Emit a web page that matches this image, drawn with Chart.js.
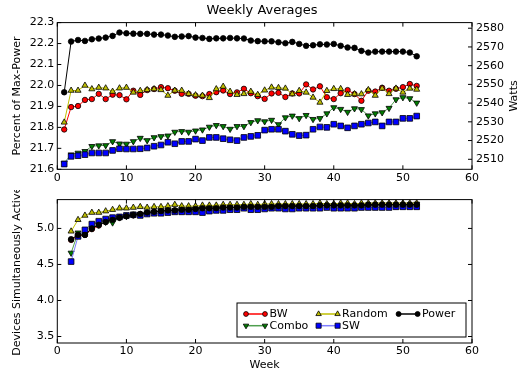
<!DOCTYPE html>
<html>
<head>
<meta charset="utf-8">
<script src="https://cdn.jsdelivr.net/npm/chart.js@4.4.0/dist/chart.umd.min.js"></script>
<style>
html, body { margin: 0; padding: 0; background: #fff; }
#wrap { position: relative; width: 524px; height: 375px; }
canvas { position: absolute; left: 0; }
#topChart { top: 0; }
#bottomChart { top: 190px; }
</style>
</head>
<body>
<div id="wrap">
  <canvas id="topChart" width="524" height="190"></canvas>
  <canvas id="bottomChart" width="524" height="185"></canvas>
</div>
<script>
// weeks of the study
const weeks = [1, 2, 3, 4, 5, 6, 7, 8, 9, 10, 11, 12, 13, 14, 15, 16, 17, 18, 19, 20,
  21, 22, 23, 24, 25, 26, 27, 28, 29, 30, 31, 32, 33, 34, 35, 36, 37, 38, 39, 40,
  41, 42, 43, 44, 45, 46, 47, 48, 49, 50, 51, 52];

// top panel: percent of max-power (weeks 1-52)
const bwPct = [21.790, 21.897, 21.902, 21.931, 21.935, 21.960, 21.935, 21.956, 21.954, 21.934,
  21.975, 21.955, 21.978, 21.983, 21.992, 21.987, 21.975, 21.960, 21.960, 21.951,
  21.949, 21.959, 21.968, 21.976, 21.959, 21.967, 21.984, 21.963, 21.949, 21.936,
  21.962, 21.965, 21.945, 21.962, 21.962, 22.005, 21.981, 21.996, 21.944, 21.935,
  21.963, 21.978, 21.959, 21.927, 21.975, 21.971, 21.989, 21.975, 21.984, 21.992, 22.007, 21.998];
const comboPct = [21.630, 21.670, 21.678, 21.686, 21.710, 21.713, 21.714, 21.733, 21.722, 21.721,
  21.733, 21.749, 21.738, 21.752, 21.757, 21.760, 21.778, 21.781, 21.778, 21.784,
  21.789, 21.802, 21.810, 21.805, 21.792, 21.805, 21.805, 21.824, 21.833, 21.828,
  21.835, 21.814, 21.847, 21.855, 21.843, 21.858, 21.839, 21.843, 21.866, 21.895,
  21.887, 21.873, 21.890, 21.886, 21.856, 21.866, 21.871, 21.892, 21.933, 21.943, 21.938, 21.917];
const randomPct = [21.824, 21.976, 21.976, 22.000, 21.983, 21.990, 21.987, 21.971, 21.987, 21.990,
  21.967, 21.975, 21.979, 21.983, 21.979, 21.952, 21.976, 21.976, 21.960, 21.954,
  21.952, 21.941, 21.983, 21.995, 21.971, 21.956, 21.960, 21.971, 21.956, 21.977,
  21.991, 21.989, 21.986, 21.959, 21.975, 21.967, 21.943, 21.919, 21.975, 21.984,
  21.984, 21.956, 21.959, 21.959, 21.979, 21.952, 21.986, 21.960, 21.986, 21.967, 21.986, 21.981];
const swPct = [21.625, 21.662, 21.665, 21.670, 21.678, 21.678, 21.678, 21.690, 21.698, 21.697,
  21.697, 21.698, 21.702, 21.710, 21.716, 21.729, 21.722, 21.733, 21.733, 21.744,
  21.737, 21.752, 21.752, 21.746, 21.741, 21.737, 21.752, 21.757, 21.762, 21.787,
  21.791, 21.791, 21.782, 21.767, 21.761, 21.763, 21.791, 21.802, 21.800, 21.815,
  21.807, 21.798, 21.807, 21.815, 21.821, 21.826, 21.807, 21.826, 21.826, 21.843, 21.843, 21.854];
// power on the Watts axis
const powerWatts = [2545.8, 2572.9, 2573.7, 2573.2, 2574.1, 2574.5, 2575.0, 2575.9, 2577.7, 2577.3,
  2577.1, 2577.0, 2577.0, 2576.6, 2576.6, 2576.1, 2575.4, 2575.6, 2575.8, 2575.0,
  2574.8, 2574.3, 2574.6, 2574.6, 2574.8, 2574.6, 2574.5, 2573.4, 2573.1, 2573.0,
  2573.0, 2572.5, 2572.0, 2572.7, 2571.6, 2570.6, 2570.9, 2571.4, 2571.3, 2571.6,
  2570.6, 2569.7, 2569.5, 2567.9, 2567.0, 2567.5, 2567.5, 2567.5, 2567.5, 2567.5, 2567.0, 2565.0];

// bottom panel: devices simultaneously active (weeks 2-52)
const devWeeks = weeks.slice(1);
const bwDev = [4.84, 4.90, 4.91, 4.99, 5.04, 5.09, 5.12, 5.15, 5.17, 5.18,
  5.20, 5.21, 5.23, 5.24, 5.25, 5.25, 5.26, 5.26, 5.27, 5.28,
  5.28, 5.28, 5.29, 5.29, 5.29, 5.29, 5.30, 5.30, 5.30, 5.30,
  5.31, 5.31, 5.31, 5.31, 5.31, 5.31, 5.31, 5.32, 5.32, 5.32,
  5.32, 5.32, 5.32, 5.32, 5.33, 5.33, 5.33, 5.33, 5.33, 5.33, 5.33];
const comboDev = [4.66, 4.94, 4.92, 5.00, 5.05, 5.09, 5.08, 5.15, 5.17, 5.19,
  5.20, 5.22, 5.23, 5.24, 5.25, 5.25, 5.26, 5.26, 5.27, 5.27,
  5.28, 5.28, 5.29, 5.29, 5.29, 5.30, 5.30, 5.30, 5.30, 5.30,
  5.31, 5.31, 5.31, 5.31, 5.31, 5.31, 5.32, 5.32, 5.32, 5.32,
  5.32, 5.32, 5.32, 5.33, 5.33, 5.33, 5.33, 5.33, 5.33, 5.33, 5.34];
const randomDev = [4.96, 5.12, 5.18, 5.22, 5.22, 5.24, 5.26, 5.28, 5.28, 5.29,
  5.30, 5.29, 5.30, 5.30, 5.31, 5.33, 5.31, 5.31, 5.31, 5.32,
  5.32, 5.32, 5.33, 5.33, 5.33, 5.33, 5.34, 5.33, 5.34, 5.34,
  5.34, 5.34, 5.34, 5.34, 5.34, 5.34, 5.35, 5.34, 5.34, 5.35,
  5.35, 5.34, 5.35, 5.35, 5.35, 5.35, 5.35, 5.35, 5.35, 5.35, 5.35];
const swDev = [4.54, 4.89, 4.98, 5.06, 5.10, 5.13, 5.15, 5.16, 5.18, 5.19,
  5.18, 5.20, 5.21, 5.21, 5.22, 5.23, 5.23, 5.23, 5.23, 5.22,
  5.24, 5.25, 5.25, 5.26, 5.26, 5.28, 5.26, 5.26, 5.27, 5.28,
  5.28, 5.27, 5.27, 5.28, 5.28, 5.28, 5.28, 5.29, 5.28, 5.28,
  5.28, 5.28, 5.29, 5.29, 5.29, 5.29, 5.29, 5.30, 5.30, 5.30, 5.30];
const powerDev = [4.85, 4.91, 4.91, 5.00, 5.05, 5.09, 5.12, 5.15, 5.17, 5.19,
  5.20, 5.22, 5.23, 5.24, 5.25, 5.25, 5.26, 5.26, 5.27, 5.28,
  5.28, 5.28, 5.29, 5.29, 5.29, 5.30, 5.30, 5.30, 5.30, 5.30,
  5.31, 5.31, 5.31, 5.31, 5.31, 5.31, 5.32, 5.32, 5.32, 5.32,
  5.32, 5.32, 5.32, 5.33, 5.33, 5.33, 5.33, 5.33, 5.33, 5.33, 5.33];

// tick labels
const weekTicks = [0, 10, 20, 30, 40, 50, 60];
const pctTicks = [21.6, 21.7, 21.8, 21.9, 22.0, 22.1, 22.2, 22.3];
const wattTicks = [2510, 2520, 2530, 2540, 2550, 2560, 2570, 2580];
const devTicks = [3.5, 4.0, 4.5, 5.0];

Chart.defaults.font.family = "'DejaVu Sans', sans-serif";
Chart.defaults.font.size = 11;
Chart.defaults.color = '#000';

// look of each series (drawing order: Power on top)
const looks = {
  BW:     { line: '#ff0000', fill: '#ff0000', shape: 'circle',   rot: 0,   r: 2.7, order: 5 },
  Combo:  { line: '#4f9f4f', fill: '#007f00', shape: 'triangle', rot: 180, r: 3.5, order: 4 },
  Random: { line: '#bfbf00', fill: '#bfbf00', shape: 'triangle', rot: 0,   r: 3.5, order: 3 },
  SW:     { line: '#7f7fff', fill: '#0000ff', shape: 'rect',     rot: 0,   r: 4.0, order: 2 },
  Power:  { line: '#000000', fill: '#000000', shape: 'circle',   rot: 0,   r: 2.8, order: 1 }
};

function series(label, xs, ys, axis) {
  const l = looks[label];
  return {
    label: label,
    data: xs.map((x, i) => ({ x: x, y: ys[i] })),
    yAxisID: axis,
    borderColor: l.line,
    borderWidth: 1,
    backgroundColor: l.fill,
    pointStyle: l.shape,
    pointRotation: l.rot,
    pointRadius: l.r,
    pointBackgroundColor: l.fill,
    pointBorderColor: '#000',
    pointBorderWidth: 0.8,
    tension: 0,
    order: l.order
  };
}

const fixTicks = values => scale => { scale.ticks = values.map(v => ({ value: v })); };

// frame and inward tick marks, like the original
const framePlugin = {
  id: 'frame',
  afterDatasetsDraw(chart) {
    const { ctx, chartArea: a, scales } = chart;
    const len = 4;
    ctx.save();
    ctx.strokeStyle = '#000';
    ctx.lineWidth = 1;
    ctx.beginPath();
    scales.x.ticks.forEach(t => {
      const px = scales.x.getPixelForValue(t.value);
      ctx.moveTo(px, a.bottom); ctx.lineTo(px, a.bottom - len);
      ctx.moveTo(px, a.top); ctx.lineTo(px, a.top + len);
    });
    scales.y.ticks.forEach(t => {
      const py = scales.y.getPixelForValue(t.value);
      ctx.moveTo(a.left, py); ctx.lineTo(a.left + len, py);
      if (!scales.y1) { ctx.moveTo(a.right, py); ctx.lineTo(a.right - len, py); }
    });
    if (scales.y1) {
      scales.y1.ticks.forEach(t => {
        const py = scales.y1.getPixelForValue(t.value);
        ctx.moveTo(a.right, py); ctx.lineTo(a.right - len, py);
      });
    }
    ctx.stroke();
    ctx.strokeRect(a.left, a.top, a.right - a.left, a.bottom - a.top);
    ctx.restore();
  }
};

// right-hand axis title reads bottom to top, as in the original
const wattsTitlePlugin = {
  id: 'wattsTitle',
  afterDraw(chart) {
    const { ctx, chartArea: a } = chart;
    ctx.save();
    ctx.translate(514, (a.top + a.bottom) / 2);
    ctx.rotate(-Math.PI / 2);
    ctx.font = "11px 'DejaVu Sans', sans-serif";
    ctx.fillStyle = '#000';
    ctx.textAlign = 'center';
    ctx.textBaseline = 'middle';
    ctx.fillText('Watts', 0, 0);
    ctx.restore();
  }
};

// legend in the lower right corner of the bottom panel, three columns
const legendSlots = { BW: [0, 0], Random: [1, 0], Power: [2, 0], Combo: [0, 1], SW: [1, 1] };
const legendPlugin = {
  id: 'cornerLegend',
  afterDraw(chart) {
    const { ctx, chartArea: a } = chart;
    const w = 229, h = 34;
    const bx = a.right - 6 - w, by = a.bottom - 6 - h;
    const colX = [9, 81.6, 161.6];
    const rowY = [11, 22.7];
    ctx.save();
    ctx.fillStyle = '#fff';
    ctx.fillRect(bx, by, w, h);
    ctx.strokeStyle = '#000';
    ctx.lineWidth = 1;
    ctx.strokeRect(bx, by, w, h);
    ctx.font = "11px 'DejaVu Sans', sans-serif";
    ctx.textBaseline = 'middle';
    chart.data.datasets.forEach(ds => {
      const [c, r] = legendSlots[ds.label];
      const x0 = bx + colX[c], x1 = x0 + 19, y = by + rowY[r];
      ctx.strokeStyle = ds.borderColor;
      ctx.lineWidth = 1.5;
      ctx.beginPath(); ctx.moveTo(x0, y); ctx.lineTo(x1, y); ctx.stroke();
      [x0, x1].forEach(px => {
        ctx.fillStyle = ds.pointBackgroundColor;
        ctx.strokeStyle = '#000';
        ctx.lineWidth = 0.8;
        Chart.helpers.drawPoint(ctx, { pointStyle: ds.pointStyle, rotation: ds.pointRotation, radius: ds.pointRadius * 0.9, borderWidth: 0.8 }, px, y);
      });
      ctx.fillStyle = '#000';
      ctx.fillText(ds.label, x1 + 4.5, y);
    });
    ctx.restore();
  }
};

const xAxis = (height, title) => ({
  type: 'linear', min: 0, max: 60,
  afterBuildTicks: fixTicks(weekTicks),
  grid: { display: false, drawTicks: false },
  border: { display: false },
  ticks: { padding: 2, maxRotation: 0 },
  title: title ? { display: true, text: title, padding: { top: 0, bottom: 3.4 } } : { display: false },
  afterFit: s => { s.height = height; }
});

new Chart(document.getElementById('topChart'), {
  type: 'line',
  data: {
    datasets: [
      series('BW', weeks, bwPct, 'y'),
      series('Combo', weeks, comboPct, 'y'),
      series('Random', weeks, randomPct, 'y'),
      series('SW', weeks, swPct, 'y'),
      series('Power', weeks, powerWatts, 'y1')
    ]
  },
  options: {
    responsive: false,
    animation: false,
    layout: { padding: 0 },
    scales: {
      x: xAxis(20.7),
      y: {
        type: 'linear', position: 'left', min: 21.6, max: 22.3,
        afterBuildTicks: fixTicks(pctTicks),
        grid: { display: false, drawTicks: false },
        border: { display: false },
        ticks: { padding: 3, callback: v => v.toFixed(1) },
        title: { display: true, text: 'Percent of Max-Power', padding: { top: 11, bottom: 0 } },
        afterFit: s => { s.width = 57.3; }
      },
      y1: {
        type: 'linear', position: 'right', min: 2504.65, max: 2583,
        afterBuildTicks: fixTicks(wattTicks),
        grid: { display: false, drawTicks: false },
        border: { display: false },
        ticks: { padding: 4, callback: v => String(v) },
        title: { display: false },
        afterFit: s => { s.width = 52; }
      }
    },
    plugins: {
      legend: { display: false },
      tooltip: { enabled: false },
      title: {
        display: true, text: 'Weekly Averages', color: '#000',
        font: { size: 13, weight: 'normal' },
        padding: { top: 3, bottom: 4 }
      }
    }
  },
  plugins: [framePlugin, wattsTitlePlugin]
});

new Chart(document.getElementById('bottomChart'), {
  type: 'line',
  data: {
    datasets: [
      series('BW', devWeeks, bwDev, 'y'),
      series('Combo', devWeeks, comboDev, 'y'),
      series('Random', devWeeks, randomDev, 'y'),
      series('SW', devWeeks, swDev, 'y'),
      series('Power', devWeeks, powerDev, 'y')
    ]
  },
  options: {
    responsive: false,
    animation: false,
    layout: { padding: { top: 8, right: 52, left: 0, bottom: 0 } },
    scales: {
      x: xAxis(32, 'Week'),
      y: {
        type: 'linear', position: 'left', min: 3.41, max: 5.40,
        afterBuildTicks: fixTicks(devTicks),
        grid: { display: false, drawTicks: false },
        border: { display: false },
        ticks: { padding: 3, callback: v => v.toFixed(1) },
        title: { display: true, text: 'Devices Simultaneously Active', padding: { top: 11, bottom: 0 } },
        afterFit: s => { s.width = 57.3; }
      }
    },
    plugins: {
      legend: { display: false },
      tooltip: { enabled: false }
    }
  },
  plugins: [framePlugin, legendPlugin]
});
</script>
</body>
</html>
